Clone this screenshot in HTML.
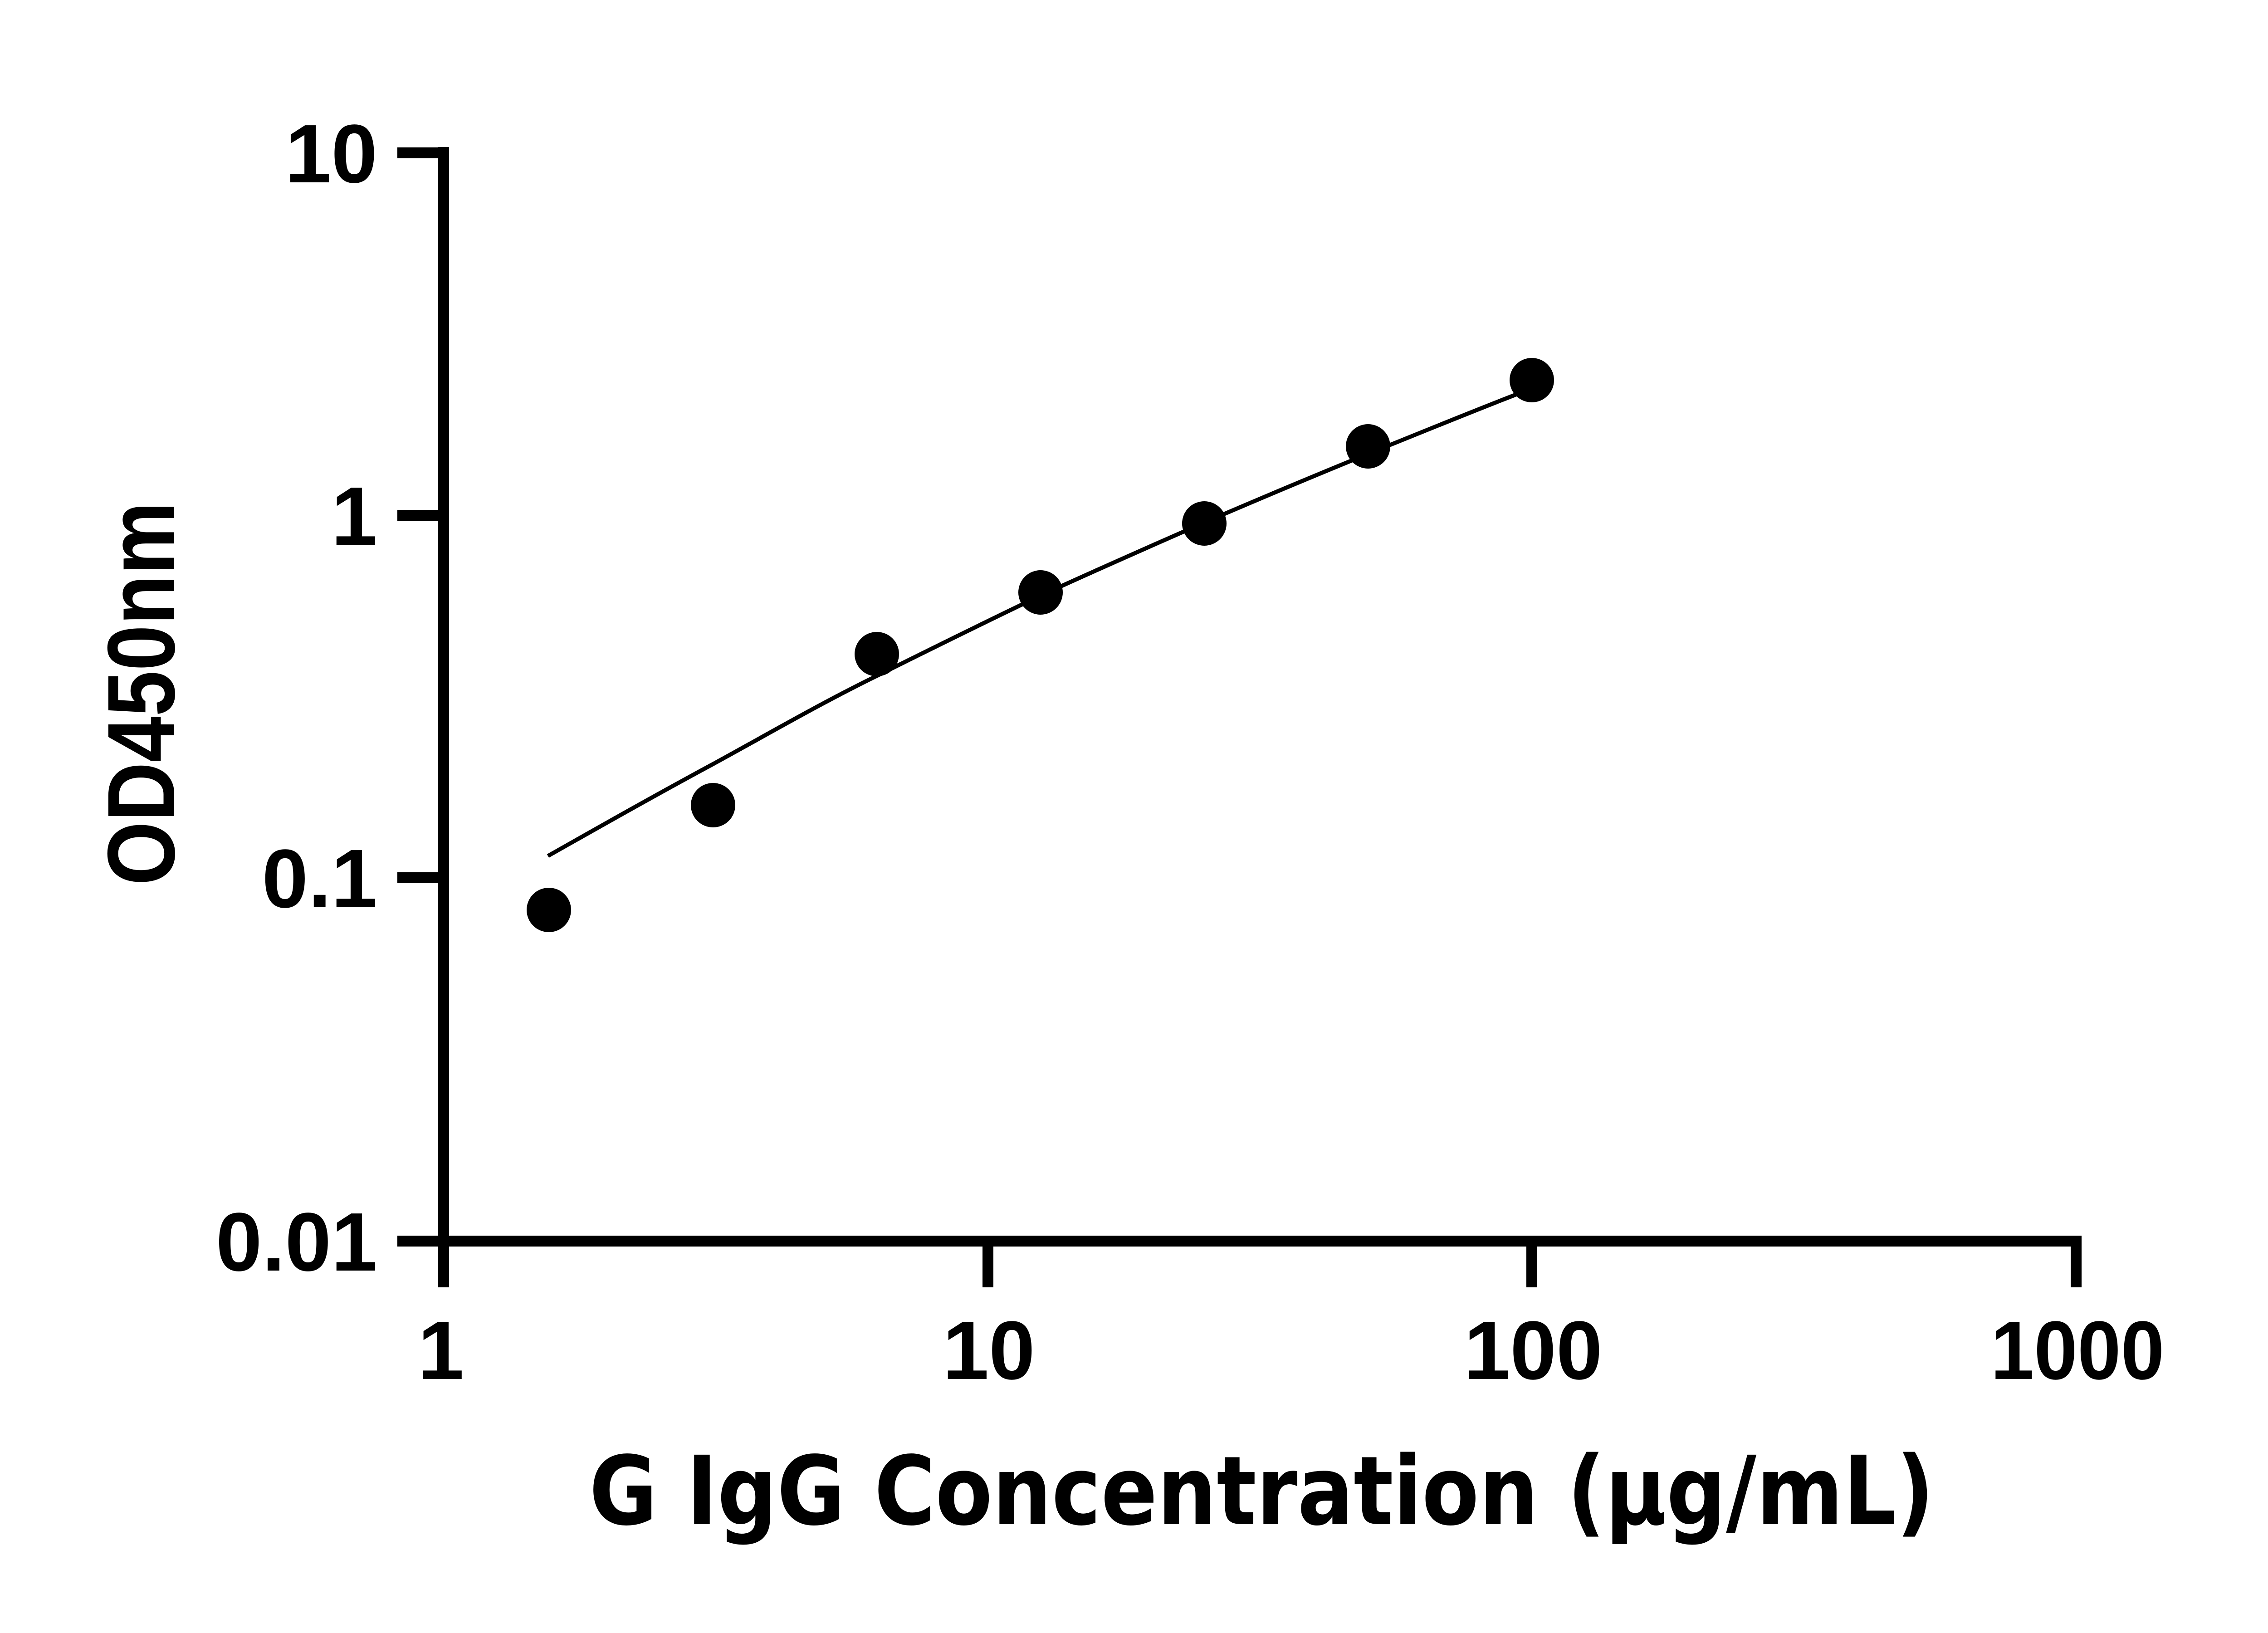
<!DOCTYPE html>
<html><head><meta charset="utf-8"><style>html,body{margin:0;padding:0;background:#fff;}svg{display:block}</style></head>
<body>
<svg width="5130" height="3600" viewBox="0 0 5130 3600" xmlns="http://www.w3.org/2000/svg">
<rect width="5130" height="3600" fill="#fff"/>
<g stroke="#000" stroke-width="24" fill="none">
<polyline points="978,324 978,2736 4577,2736 4577,2838" stroke-linejoin="miter"/>
<line x1="876" y1="337" x2="978" y2="337"/>
<line x1="876" y1="1136" x2="978" y2="1136"/>
<line x1="876" y1="1935" x2="978" y2="1935"/>
<line x1="876" y1="2736" x2="978" y2="2736"/>
<line x1="978" y1="2736" x2="978" y2="2838"/>
<line x1="2178" y1="2736" x2="2178" y2="2838"/>
<line x1="3377" y1="2736" x2="3377" y2="2838"/>
</g>
<g font-family="'Liberation Sans', Arial, sans-serif" font-weight="bold" font-size="183" fill="#000">
<text x="832" y="402" text-anchor="end">10</text>
<text x="832" y="1201" text-anchor="end">1</text>
<text x="832" y="2000" text-anchor="end">0.1</text>
<text x="832" y="2801" text-anchor="end">0.01</text>
<text x="972" y="3040" text-anchor="middle">1</text>
<text x="2180" y="3040" text-anchor="middle">10</text>
<text x="3380" y="3040" text-anchor="middle">100</text>
<text x="4580" y="3040" text-anchor="middle" textLength="383" lengthAdjust="spacingAndGlyphs">1000</text>
<text transform="translate(384,1529) rotate(-90)" text-anchor="middle" font-size="211" textLength="846" lengthAdjust="spacingAndGlyphs">OD450nm</text>
</g>
<text x="1299" y="3360" font-family="'DejaVu Sans', 'Liberation Sans', sans-serif" font-weight="bold" font-size="210" textLength="2965" lengthAdjust="spacingAndGlyphs">G IgG Concentration (μg/mL)</text>
<path d="M1208,1887 C1330,1818 1450,1750 1569,1686 C1690,1620 1810,1550 1933,1490 C2054,1430 2174,1370 2294,1313 C2414,1258 2534,1205 2655,1152 C2775,1100 2895,1050 3017,1000 C3137,952 3257,902 3378,856" stroke="#000" stroke-width="9" fill="none"/>
<g fill="#000">
<circle cx="1210" cy="2006" r="49"/>
<circle cx="1572" cy="1775" r="49"/>
<circle cx="1933" cy="1442" r="49"/>
<circle cx="2294" cy="1306" r="49"/>
<circle cx="2655" cy="1154" r="49"/>
<circle cx="3016" cy="984" r="49"/>
<circle cx="3377" cy="838" r="49"/>
</g>
</svg>
</body></html>
